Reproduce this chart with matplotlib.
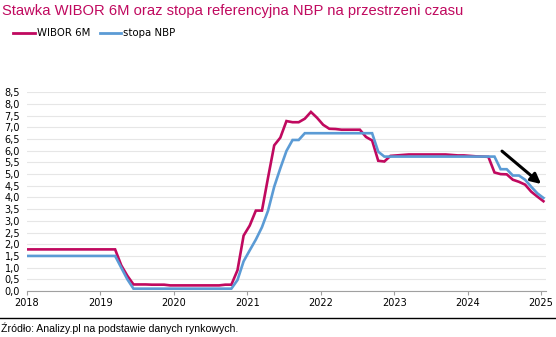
import matplotlib
matplotlib.use("Agg")
import matplotlib.pyplot as plt
from matplotlib.lines import Line2D
import numpy as np

title = "Stawka WIBOR 6M oraz stopa referencyjna NBP na przestrzeni czasu"
source = "Źródło: Analizy.pl na podstawie danych rynkowych."

# monthly readings, 85 points
wibor = [1.78] * 15 + [1.10, 0.65, 0.28, 0.28, 0.28, 0.27, 0.27, 0.27,
         0.24, 0.24, 0.24, 0.24, 0.24, 0.24, 0.24, 0.24, 0.24, 0.27, 0.27,
         0.89, 2.37, 2.80, 3.44, 3.44, 4.86, 6.23, 6.56, 7.27, 7.22, 7.22,
         7.37, 7.66, 7.41, 7.11, 6.94, 6.93, 6.90, 6.90, 6.90, 6.90, 6.59,
         6.44, 5.57, 5.54, 5.78, 5.80, 5.82, 5.84, 5.84, 5.84, 5.84, 5.84,
         5.84, 5.84, 5.82, 5.80, 5.80, 5.78, 5.76, 5.75, 5.74, 5.07, 5.00,
         4.99, 4.76, 4.67, 4.55, 4.25, 4.04, 3.84]
nbp = [1.50] * 15 + [1.00, 0.50] + [0.10] * 17 + [
       0.47, 1.27, 1.74, 2.20, 2.73, 3.44, 4.46, 5.25, 5.99, 6.46, 6.46] + \
      [6.75] * 12 + [5.96] + [5.75] * 19 + [
       5.21, 5.21, 4.94, 4.94, 4.76, 4.46, 4.18, 3.98]

years = [2018, 2019, 2020, 2021, 2022, 2023, 2024, 2025]
yticks = [i * 0.5 for i in range(18)]

magenta = "#C0095F"
blue = "#5B9BD5"

t = 2018 + (np.arange(len(wibor)) + 0.4) / 12
t[0] = 2018.0

fig = plt.figure(figsize=(5.56, 3.37), dpi=100)
ax = fig.add_axes([27 / 556, 46 / 337, 519 / 556, 198.7 / 337])

ax.plot(t, wibor, color=magenta, lw=1.9, solid_joinstyle="miter")
ax.plot(t, nbp, color=blue, lw=1.9, solid_joinstyle="miter")

ax.set_xlim(2018, 2025 + 5 / 73.3)
ax.set_ylim(0, 8.5)
ax.set_xticks(years)
ax.set_xticklabels([str(y) for y in years], fontsize=7, family="DejaVu Sans")
ax.set_yticks(yticks)
ax.set_yticklabels([("%.1f" % v).replace(".", ",") for v in yticks],
                   fontsize=7, family="DejaVu Sans")
ax.tick_params(axis="y", length=0, pad=5)
ax.tick_params(axis="x", length=3, color="#A0A0A0", pad=2)
ax.grid(axis="y", color="#E6E6E6", lw=0.8)
ax.set_axisbelow(True)
for s in ["top", "right", "left"]:
    ax.spines[s].set_visible(False)
ax.spines["bottom"].set_color("#A0A0A0")
ax.spines["bottom"].set_linewidth(0.8)

ax.annotate("", xy=(2025.03, 4.5), xytext=(2024.44, 6.06),
            arrowprops=dict(arrowstyle="-|>,head_length=0.6,head_width=0.3",
                            color="black", lw=2.2))

fig.text(2 / 556, 1 - 11 / 337, title, color=magenta, fontsize=10.6,
         family="Liberation Sans", va="center", ha="left")

fig.add_artist(Line2D([13 / 556, 35 / 556], [1 - 33 / 337] * 2, color=magenta, lw=2))
fig.text(37 / 556, 1 - 33 / 337, "WIBOR 6M", fontsize=7.3, va="center",
         family="DejaVu Sans")
fig.add_artist(Line2D([100 / 556, 121 / 556], [1 - 33 / 337] * 2, color=blue, lw=2))
fig.text(123 / 556, 1 - 33 / 337, "stopa NBP", fontsize=7.3, va="center",
         family="DejaVu Sans")

fig.add_artist(Line2D([0, 1], [1 - 318 / 337] * 2, color="black", lw=1))
fig.text(1 / 556, 1 - 328 / 337, source, fontsize=7.6, va="center",
         family="Liberation Sans")

fig.savefig("out.png", dpi=100)
